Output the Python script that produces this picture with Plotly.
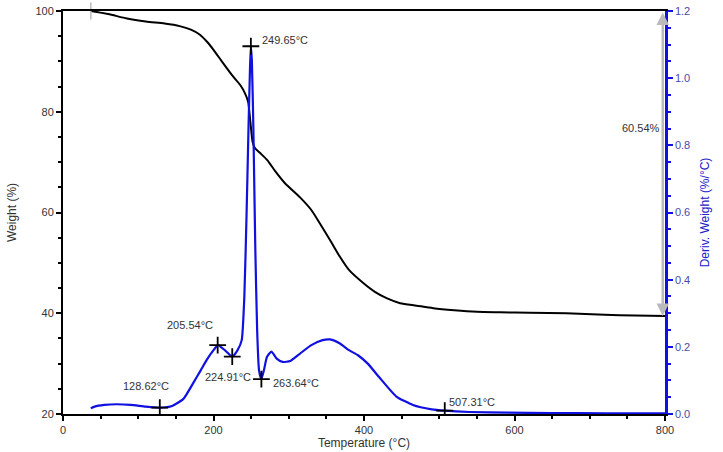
import plotly.graph_objects as go

# TGA weight curve
temp_w = [37, 60, 85, 110, 135, 155, 170, 182, 192, 200, 212, 226, 236, 242, 246, 248, 250, 252,
          255, 262, 272, 282, 295, 315, 330, 341, 355, 368, 380, 399, 415, 430, 448, 470, 492,
          520, 550, 581, 620, 669, 720, 760, 800]
weight = [100, 99.4, 98.5, 97.9, 97.5, 97.0, 96.3, 95.3, 93.8, 92.3, 89.8, 87.0, 85.2, 83.6, 82.0,
          79.5, 76.5, 74.0, 72.8, 71.8, 70.3, 68.2, 65.8, 63.0, 60.5, 57.9, 54.5, 51.2, 48.6, 46.0,
          44.2, 43.0, 42.0, 41.5, 41.0, 40.6, 40.3, 40.2, 40.1, 40.0, 39.7, 39.55, 39.46]

# DTG derivative curve
temp_d = [37, 42, 55, 71, 90, 110, 129, 145, 160, 173, 183, 191, 200, 206, 215, 225, 232, 237.5,
          241, 244, 246.5, 248.5, 249.65, 251, 253, 255.5, 258, 260.5, 263.6, 267, 271, 277, 284,
          292, 302, 315, 330, 345, 355, 368, 380, 392, 405, 420, 443, 465, 490, 507, 540, 590,
          650, 720, 800]
deriv = [0.017, 0.022, 0.027, 0.029, 0.027, 0.022, 0.019, 0.024, 0.045, 0.092, 0.13, 0.161, 0.19,
         0.205, 0.19, 0.171, 0.19, 0.22, 0.35, 0.6, 0.85, 1.03, 1.095, 1.05, 0.85, 0.5, 0.25, 0.13,
         0.104, 0.13, 0.17, 0.186, 0.165, 0.155, 0.158, 0.18, 0.205, 0.22, 0.222, 0.21, 0.19,
         0.175, 0.15, 0.11, 0.052, 0.027, 0.014, 0.01, 0.006, 0.004, 0.003, 0.002, 0.002]

# marked points on the derivative curve
peak_temps = [128.62, 205.54, 224.91, 249.65, 263.64, 507.31]
peak_derivs = [0.019, 0.205, 0.171, 1.095, 0.104, 0.01]
# label placement (xanchor, xshift, yshift) per marked point
label_offsets = [('center', -14, 22), ('center', -28, 20), ('right', 21, -20),
                 ('left', 9, 6), ('left', 10, -4), ('left', 2, 9)]

loss_top = 100
loss_bottom = 39.46
loss_text = '60.54%'

FONT = 'Liberation Sans, Arial, sans-serif'
BLUE = '#1010e0'

fig = go.Figure()

fig.add_trace(go.Scatter(
    x=temp_w, y=weight, mode='lines',
    line=dict(color='black', width=2, shape='spline', smoothing=0.7),
    showlegend=False, yaxis='y'
))
fig.add_trace(go.Scatter(
    x=temp_d, y=deriv, mode='lines',
    line=dict(color=BLUE, width=2.2, shape='spline', smoothing=0.5),
    showlegend=False, yaxis='y2'
))
fig.add_trace(go.Scatter(
    x=peak_temps, y=peak_derivs, mode='markers',
    marker=dict(symbol='cross-thin', size=12, line=dict(color='black', width=1.8)),
    showlegend=False, yaxis='y2'
))
# gray start tick
fig.add_trace(go.Scatter(
    x=[temp_w[0]], y=[weight[0]], mode='markers',
    marker=dict(symbol='line-ns', size=12, line=dict(color='#bbbbbb', width=1.5)),
    showlegend=False, yaxis='y', cliponaxis=False
))

for t, d, (anchor, dx, dy) in zip(peak_temps, peak_derivs, label_offsets):
    fig.add_annotation(
        x=t, y=d, xref='x', yref='y2', text=f'{t:.2f}°C', showarrow=False,
        xanchor=anchor, yanchor='middle', xshift=dx, yshift=dy,
        font=dict(family=FONT, size=11, color='#333333')
    )

# weight loss double arrow
fig.add_annotation(
    x=797, y=loss_bottom, ax=797, ay=loss_top, xref='x', yref='y', axref='x', ayref='y',
    text='', showarrow=True, arrowhead=2, arrowside='end+start', arrowsize=1,
    arrowwidth=2.5, arrowcolor='#bbbbbb', standoff=0, startstandoff=0
)
fig.add_annotation(
    x=797, y=(loss_top + loss_bottom) / 2 + 7, xref='x', yref='y', text=loss_text,
    showarrow=False, xanchor='right', xshift=-1,
    font=dict(family=FONT, size=11, color='#333333')
)

fig.update_layout(
    width=723, height=452,
    margin=dict(l=63, r=58, t=11, b=38, autoexpand=False),
    plot_bgcolor='white', paper_bgcolor='white',
    font=dict(family=FONT, size=11, color='#333333'),
    xaxis=dict(
        range=[0, 800], dtick=200, showgrid=False, zeroline=False, automargin=False,
        showline=True, linecolor='black', linewidth=2, mirror=True,
        ticks='outside', ticklen=5, tickcolor='black', tickwidth=1.5,
        minor=dict(dtick=50, ticks='outside', ticklen=3, tickcolor='black', showgrid=False),
        title=dict(text='Temperature (°C)', standoff=2, font=dict(size=12)),
        tickfont=dict(size=11, color='#333333')
    ),
    yaxis=dict(
        range=[20, 100], dtick=20, showgrid=False, zeroline=False, automargin=False,
        showline=True, linecolor='black', linewidth=2,
        ticks='outside', ticklen=5, tickcolor='black', tickwidth=1.5,
        minor=dict(dtick=5, ticks='outside', ticklen=3, tickcolor='black', showgrid=False),
        title=dict(text='Weight (%)', standoff=16, font=dict(size=12)),
        tickfont=dict(size=11, color='#333333')
    ),
    yaxis2=dict(
        range=[0, 1.2], dtick=0.2, tickformat='.1f', overlaying='y', side='right',
        showgrid=False, zeroline=False, automargin=False,
        showline=True, linecolor=BLUE, linewidth=2.5,
        ticks='outside', ticklen=5, tickcolor=BLUE, tickwidth=1.5,
        minor=dict(dtick=0.05, ticks='outside', ticklen=3, tickcolor=BLUE, showgrid=False),
        title=dict(text='Deriv. Weight (%/°C)', standoff=12, font=dict(size=12, color='#2020c8')),
        tickfont=dict(size=11, color='#4a4aa8')
    )
)

# drop the default 8px body margin so the figure sits at the page corner
fig.write_html('out.html', config={'displayModeBar': False},
               post_script="document.body.style.margin = '0';")
